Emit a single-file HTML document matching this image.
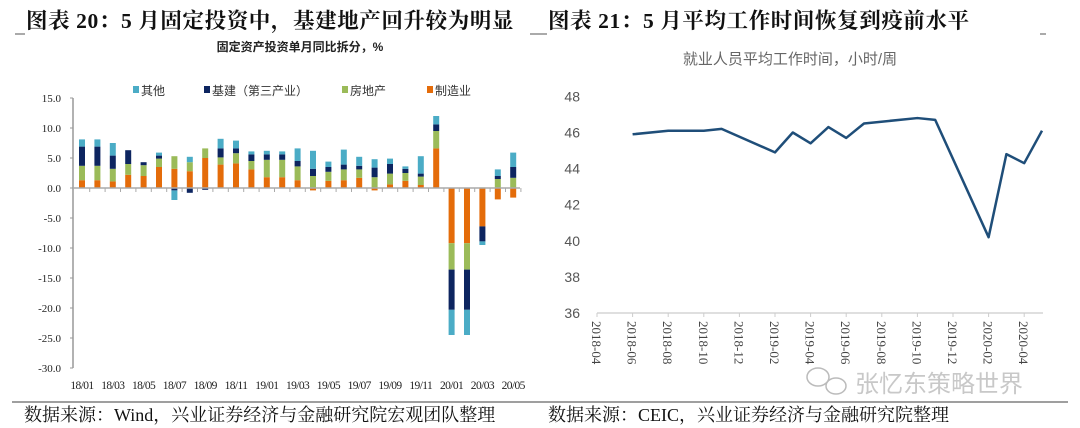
<!DOCTYPE html>
<html><head><meta charset="utf-8">
<style>
body{margin:0;background:#fff;width:1080px;height:428px;overflow:hidden;position:relative;font-family:"Liberation Serif","Noto Serif CJK SC",serif;}
.t{position:absolute;white-space:nowrap;}
</style></head>
<body>
<div class="t" style="left:26px;top:4px;font-size:21.5px;font-weight:bold;color:#111;letter-spacing:0.6px;">图表 20：5 月固定投资中，基建地产回升较为明显</div>
<div class="t" style="left:548px;top:4px;font-size:21.5px;font-weight:bold;color:#111;letter-spacing:0.6px;">图表 21：5 月平均工作时间恢复到疫前水平</div>
<div class="t" style="left:24px;top:401px;font-size:18px;color:#111;">数据来源：Wind，兴业证券经济与金融研究院宏观团队整理</div>
<div class="t" style="left:548px;top:401px;font-size:18px;color:#111;">数据来源：CEIC，兴业证券经济与金融研究院整理</div>
<svg id="svg" width="1080" height="428" style="position:absolute;left:0;top:0">
<line x1="15" y1="34" x2="25" y2="34" stroke="#555" stroke-width="1"/>
<line x1="530" y1="34" x2="547" y2="34" stroke="#555"/>
<line x1="1040" y1="34" x2="1046" y2="34" stroke="#555"/>
<line x1="12" y1="402" x2="1068" y2="402" stroke="#666" stroke-width="1.2"/>
<text x="300" y="51" font-size="12" font-weight="bold" text-anchor="middle" fill="#222" font-family="Liberation Sans,Noto Sans CJK SC,sans-serif">固定资产投资单月同比拆分，%</text>
<text x="790" y="64" font-size="15" text-anchor="middle" fill="#666" font-family="Liberation Sans,Noto Sans CJK SC,sans-serif">就业人员平均工作时间，小时/周</text>
<g id="left"></g><g id="right"></g>
<g fill="none" stroke="#bbb" stroke-width="1.5">
<ellipse cx="818" cy="377" rx="11" ry="9"/><ellipse cx="836" cy="386" rx="10" ry="8"/>
</g>
<text x="855" y="392" font-size="24" fill="#c8c8c8" font-family="Liberation Sans,Noto Sans CJK SC,sans-serif">张忆东策略世界</text>
</svg>
<script>
const NS='http://www.w3.org/2000/svg';
function mk(p,tag,attrs,txt){const e=document.createElementNS(NS,tag);for(const k in attrs)e.setAttribute(k,attrs[k]);if(txt!==undefined)e.textContent=txt;p.appendChild(e);return e;}
// ---- left chart data ----
const months=['18/01','18/02','18/03','18/04','18/05','18/06','18/07','18/08','18/09','18/10','18/11','18/12','19/01','19/02','19/03','19/04','19/05','19/06','19/07','19/08','19/09','19/10','19/11','19/12','20/01','20/02','20/03','20/04','20/05'];
const manufacturing=[1.3,1.3,1.1,2.2,2.0,3.5,3.2,2.8,5.0,3.9,4.1,3.1,1.8,1.8,1.3,-0.4,1.2,1.3,1.7,-0.4,0.6,1.2,0.5,6.6,-9.2,-9.2,-6.4,-1.9,-1.6];
const realEstate=[2.4,2.4,2.1,1.8,1.8,1.4,2.1,1.5,1.6,1.2,1.7,1.4,2.9,2.9,2.3,2.0,1.5,1.8,1.4,1.8,1.8,1.3,1.4,2.9,-4.4,-4.4,0.1,1.5,1.7];
const infra=[3.2,3.2,2.2,2.3,0.5,0.5,-0.4,-0.8,-0.3,1.5,0.8,1.1,0.9,0.9,0.9,1.2,0.8,0.8,0.6,1.6,1.6,0.7,0.5,1.1,-6.7,-6.7,-2.5,0.5,1.8];
const other=[1.2,1.2,2.1,0,0,0.5,-1.6,0.9,0,1.6,1.3,0.5,0.6,0.5,2.1,3.0,0.9,2.5,1.5,1.4,0.9,0.4,2.9,1.4,-4.2,-4.2,-0.6,1.1,2.4];
const yTicksL=[15,10,5,0,-5,-10,-15,-20,-25,-30];
const xLabelsL=['18/01','18/03','18/05','18/07','18/09','18/11','19/01','19/03','19/05','19/07','19/09','19/11','20/01','20/03','20/05'];
const seriesNames=['其他','基建（第三产业）','房地产','制造业'];
const L=document.getElementById('left');
const yL=v=>188-(v)*6.0;
const xL=i=>82+i*15.4;
yTicksL.forEach(v=>{const t=mk(L,'text',{x:61,y:yL(v)+4,'font-size':11,'text-anchor':'end',fill:'#222'},v.toFixed(1));

});
mk(L,'line',{x1:73,y1:yL(15),x2:73,y2:yL(-30),stroke:'#999','stroke-width':1.5});
yTicksL.forEach(v=>mk(L,'line',{x1:70,y1:yL(v),x2:73,y2:yL(v),stroke:'#999'}));
const colors={manufacturing:'#e46c0a',realEstate:'#9bbb59',infra:'#0d2560',other:'#4bacc6'};
const order=[['manufacturing',manufacturing],['realEstate',realEstate],['infra',infra],['other',other]];
months.forEach((m,i)=>{let pos=0,neg=0;
 order.forEach(([k,arr])=>{const v=arr[i];if(!v)return;let y0,y1;
  if(v>0){y0=pos;y1=pos+v;pos=y1;}else{y0=neg;y1=neg+v;neg=y1;}
  const r=mk(L,'rect',{x:xL(i)-3,y:Math.min(yL(y0),yL(y1)),width:6,height:Math.abs(yL(y1)-yL(y0)),fill:colors[k]});
  
  });});
mk(L,'line',{x1:73,y1:yL(0),x2:520,y2:yL(0),stroke:'#aaa','stroke-width':1.5});
months.forEach((m,i)=>mk(L,'line',{x1:xL(i)+7.7,y1:yL(0),x2:xL(i)+7.7,y2:yL(0)+4,stroke:'#aaa'}));
xLabelsL.forEach((lab,j)=>{const t=mk(L,'text',{x:xL(j*2),y:389,'font-size':11.5,'text-anchor':'middle',fill:'#222','letter-spacing':'-0.6'},lab);

});
const legX=[133,204,342,427];const legC=[colors.other,colors.infra,colors.realEstate,colors.manufacturing];
seriesNames.forEach((n,i)=>{const g=mk(L,'g',{});


mk(g,'rect',{x:legX[i],y:86,width:6,height:7,fill:legC[i]});
mk(g,'text',{x:legX[i]+8,y:95,'font-size':12,fill:'#333','font-family':'Liberation Sans,Noto Sans CJK SC,sans-serif'},n);});
// ---- right chart data ----
const hourDates=['2018-06','2018-08','2018-10','2018-11','2019-02','2019-03','2019-04','2019-05','2019-06','2019-07','2019-10','2019-11','2020-02','2020-03','2020-04','2020-05'];
const hours=[45.9,46.1,46.1,46.2,44.9,46.0,45.4,46.3,45.7,46.5,46.8,46.7,40.2,44.8,44.3,46.1];
const yTicksR=[48,46,44,42,40,38,36];
const xLabelsR=['2018-04','2018-06','2018-08','2018-10','2018-12','2019-02','2019-04','2019-06','2019-08','2019-10','2019-12','2020-02','2020-04'];
const R=document.getElementById('right');
const mIdx=s=>{const [y,m]=s.split('-').map(Number);return (y-2018)*12+(m-4);};
const xR=s=>597+mIdx(s)*17.8;
const yR=v=>313-(v-36)*18.05;
yTicksR.forEach(v=>{const t=mk(R,'text',{x:580,y:yR(v)+5,'font-size':14,'text-anchor':'end',fill:'#555','font-family':'Liberation Sans,sans-serif'},String(v));

});
mk(R,'line',{x1:597,y1:yR(36),x2:1043,y2:yR(36),stroke:'#ccc','stroke-width':1.2});
xLabelsR.forEach(l=>{const x=xR(l);mk(R,'line',{x1:x,y1:yR(36),x2:x,y2:yR(36)+4,stroke:'#ccc'});
const t=mk(R,'text',{x:0,y:0,'font-size':13,fill:'#444',transform:`translate(${x-5},${yR(36)+8}) rotate(90)`},l);

});
const pl=mk(R,'polyline',{points:hourDates.map((d,i)=>xR(d)+','+yR(hours[i])).join(' '),fill:'none',stroke:'#1f4e79','stroke-width':2.5,'stroke-linejoin':'round'});


</script>
</body></html>
